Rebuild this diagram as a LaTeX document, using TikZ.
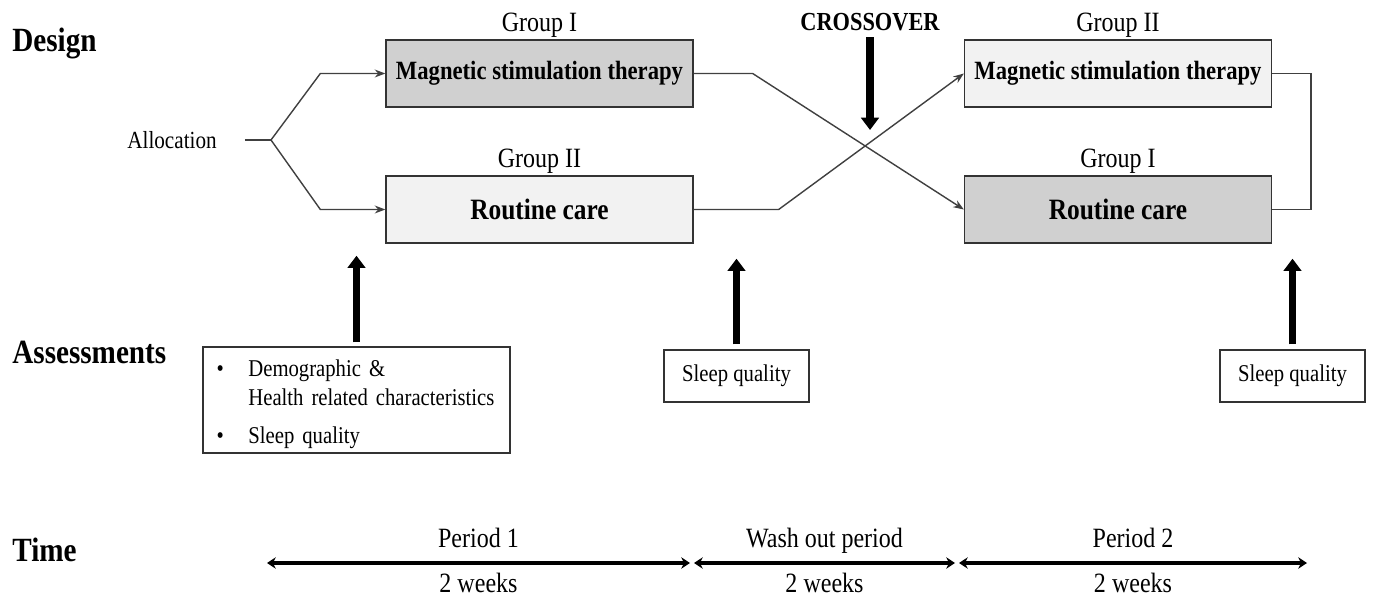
\documentclass[tikz,border=0pt]{standalone}
\usepackage{fontspec}
\setmainfont{Liberation Serif}[FakeStretch=0.86]
\usetikzlibrary{arrows.meta,calc,positioning}
\definecolor{boxdark}{HTML}{D0D0D0}
\definecolor{boxlight}{HTML}{F2F2F2}
\definecolor{linegray}{HTML}{404040}

\begin{document}
\begin{tikzpicture}[x=0.02cm, y=0.02cm, >={Stealth[length=6pt,width=4.5pt]},
	arm/.style={draw=black!80, line width=0.8pt, minimum width=6.14cm, minimum height=1.34cm, font=\fontsize{15}{18}\selectfont\bfseries},
	dark/.style={arm, fill=boxdark},
	light/.style={arm, fill=boxlight},
	big/.style={font=\fontsize{16.8}{18}\selectfont\bfseries},
	grp/.style={font=\fontsize{15.9}{18}\selectfont},
	head/.style={font=\fontsize{19.3}{22}\selectfont\bfseries, anchor=west, inner sep=0pt},
	conn/.style={draw=linegray, line width=0.8pt},
	fat/.style={line width=4.5pt, -{Triangle[length=7pt,width=10pt]}},
	abox/.style={draw=black!80, line width=0.8pt, fill=white, font=\fontsize{13.7}{17}\selectfont},
	span/.style={line width=2.1pt, {Stealth[length=5pt,width=6.5pt]}-{Stealth[length=5pt,width=6.5pt]}},
	tlab/.style={font=\fontsize{15.9}{18}\selectfont, text height=1.5ex, text depth=.25ex, inner sep=1pt}]
	
	\useasboundingbox (0,0) rectangle (1375,-597);
	
	% --- 1. row titles ---
	\node[head] (design) at (12,-43) {Design};
	\node[head] (assess) at (12,-352) {Assessments};
	\node[head] (time) at (12,-550) {Time};
	
	% --- 2. treatment boxes ---
	\node[dark] (mst1) at (539.5,-73.5) {Magnetic stimulation therapy};
	\node[light, big] (rc1) at (539.5,-209.5) {Routine care};
	\node[light] (mst2) at (1118,-73.5) {Magnetic stimulation therapy};
	\node[dark, big] (rc2) at (1118,-209.5) {Routine care};
	
	\node[grp, above=-2.5pt of mst1] (g1a) {Group I};
	\node[grp, above=-2.5pt of rc1] (g2a) {Group II};
	\node[grp, above=-2.5pt of mst2] (g2b) {Group II};
	\node[grp, above=-2.5pt of rc2] (g1b) {Group I};
	
	% --- 3. allocation ---
	\node[font=\fontsize{14}{17}\selectfont] (alloc) at (172,-140) {Allocation};
	\coordinate (split) at (271,-140);
	\draw[conn] ([xshift=12.5pt]alloc.east) -- (split);
	\draw[conn, ->] (split) -- ([xshift=-1.3cm]mst1.west) -- (mst1.west);
	\draw[conn, ->] (split) -- ([xshift=-1.3cm]rc1.west) -- (rc1.west);
	
	% --- 4. crossover ---
	\draw[conn, ->] (mst1.east) -- ([xshift=1.18cm]mst1.east) -- (rc2.west);
	\draw[conn, ->] (rc1.east) -- ([xshift=1.7cm]rc1.east) -- (mst2.west);
	\draw[conn] (mst2.east) -- ([xshift=0.78cm]mst2.east) |- (rc2.east);
	
	\node[font=\fontsize{14.8}{17}\selectfont\bfseries] (cross) at (870,-22) {CROSSOVER};
	\coordinate (crosstip) at (870,-130);
	\draw[fat] (cross.south) -- (crosstip);
	
	% --- 5. assessments ---
	\node[abox, minimum width=6.14cm, minimum height=2.12cm, text width=5.6cm, inner ysep=0pt, align=left] (a1) at (356.5,-400) {%
		\begin{tabular}{@{}l@{\hspace{14pt}}l@{}}
			\rule{0pt}{16.4pt}\textbullet & Demographic \& \\
			& Health related characteristics \\[4.5pt]
			\textbullet & Sleep quality
		\end{tabular}};
	\node[abox, minimum width=2.9cm, minimum height=1.04cm] (a2) at (736.5,-376) {Sleep quality};
	\node[abox, minimum width=2.9cm, minimum height=1.04cm] (a3) at (1292.5,-376) {Sleep quality};
	
	\draw[fat] ([yshift=0.08cm]a1.north) -- ($(a1.north |- rc1.south)+(0,-12)$);
	\draw[fat] ([yshift=0.1cm]a2.north) -- ($(a2.north |- rc1.south)+(0,-15)$);
	\draw[fat] ([yshift=0.1cm]a3.north) -- ($(a3.north |- rc2.south)+(0,-15)$);
	
	% --- 6. time line ---
	\coordinate (p1s) at (267,-563);
	\coordinate (p1e) at (690,-563);
	\coordinate (ws) at (694,-563);
	\coordinate (we) at (955,-563);
	\coordinate (p2s) at (959,-563);
	\coordinate (p2e) at (1307,-563);
	
	\draw[span] (p1s) -- (p1e) node[tlab, midway, above=5.5pt] (per1) {Period 1} node[tlab, midway, below=8pt] (wk1) {2 weeks};
	\draw[span] (ws) -- (we) node[tlab, midway, above=5.5pt] (wash) {Wash out period} node[tlab, midway, below=8pt] (wk2) {2 weeks};
	\draw[span] (p2s) -- (p2e) node[tlab, midway, above=5.5pt] (per2) {Period 2} node[tlab, midway, below=8pt] (wk3) {2 weeks};
	
\end{tikzpicture}
\end{document}
